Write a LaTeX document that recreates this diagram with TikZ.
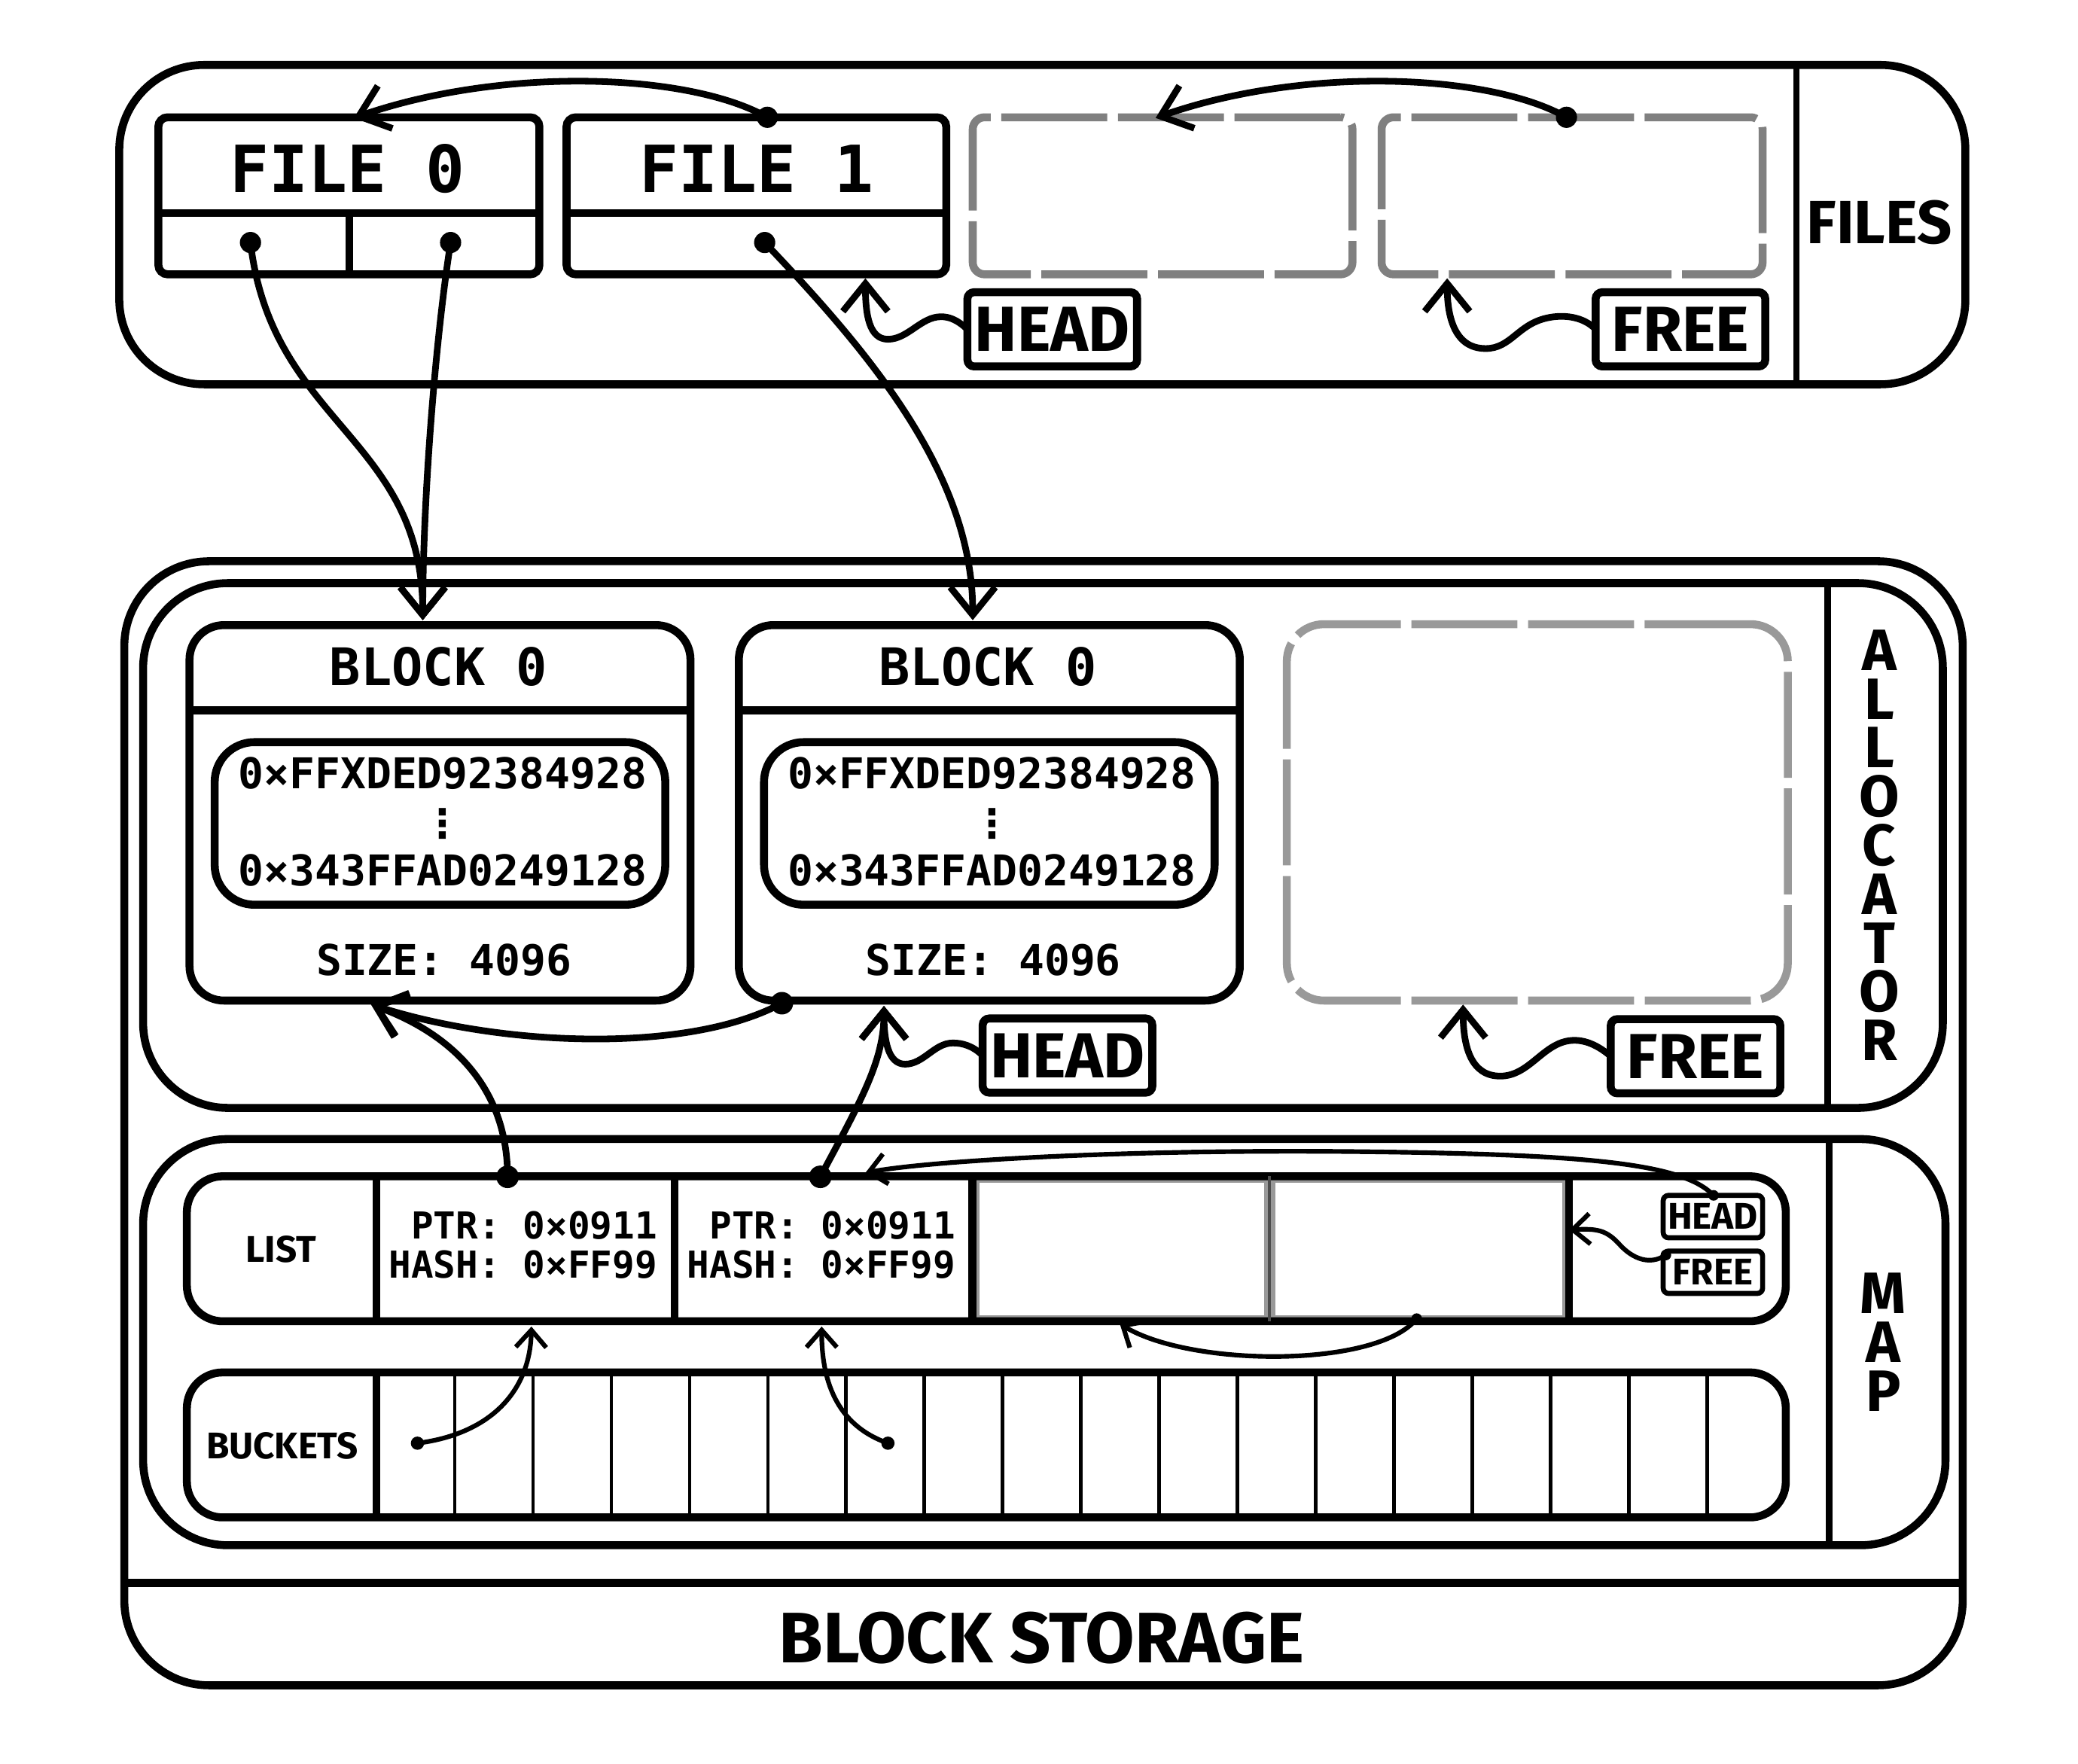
\documentclass[tikz,border=0pt]{standalone}
\usepackage{fontspec}
\setmainfont{Fira Sans}
\newfontfamily\monof{DejaVu Sans Mono}
\newfontfamily\dvsans{DejaVu Sans}
\usetikzlibrary{arrows.meta}
\definecolor{dgray}{HTML}{808080}
\definecolor{lgray}{HTML}{999999}
\newcommand\myfs[1]{\fontsize{#1}{#1}\selectfont}
\begin{document}
\begin{tikzpicture}[x=1pt,y=-1pt,
  sz/.style 2 args={minimum width=#1pt, minimum height=#2pt},
  cont/.style={draw, line width=6pt, rounded corners=64pt, inner sep=0pt, outer sep=0pt},
  box/.style={draw, line width=6pt, rounded corners=7pt, inner sep=0pt, outer sep=0pt},
  bbox/.style={draw, line width=6pt, rounded corners=26pt, inner sep=0pt, outer sep=0pt},
  ibox/.style={draw, line width=6pt, rounded corners=30pt, inner sep=0pt, outer sep=0pt},
  rbox/.style={draw, line width=6pt, rounded corners=27pt, inner sep=0pt, outer sep=0pt},
  dbox/.style={draw=dgray, line width=6pt, rounded corners=9pt, dash pattern=on 80pt off 8pt, inner sep=0pt, outer sep=0pt},
  dboxl/.style={draw=lgray, line width=6pt, rounded corners=28pt, dash pattern=on 80pt off 8pt, inner sep=0pt, outer sep=0pt},
  lbox/.style={draw, fill=white, line width=6pt, rounded corners=5pt, inner sep=0pt, outer sep=0pt, font=\bfseries\myfs{48}},
  sbox/.style={draw, fill=white, line width=3.8pt, rounded corners=4pt, inner sep=0pt, outer sep=0pt, font=\bfseries\myfs{28}},
  ln/.style={line width=6pt},
  divl/.style={line width=5pt},
  thinl/.style={line width=2.7pt},
  lab/.style={inner sep=0pt, font=\bfseries\myfs{#1}},
  mono/.style={inner sep=0pt, font=\monof\bfseries\myfs{#1}},
  conn/.style={line width=5pt, -{Straight Barb[length=21pt,width=34pt]}},
  sconn/.style={line width=3.5pt, -{Straight Barb[length=13pt,width=23pt]}}
]
\useasboundingbox (0,0) rectangle (1568,1331);

% ================= FILES =================
\node[cont, sz={1393}{241}] (files) at (786.5,169.5) {};
\draw[divl] (1355.5,49) -- (1355.5,290);
\node[lab=46] (filesl) at (1418,168) {FILES};

\node[box, sz={287.5}{118.5}] (file0) at (263.25,147.75) {};
\draw[ln] (119.5,160.7) -- (407,160.7);
\draw[ln] (263.5,160.7) -- (263.5,207);
\node[mono=49] (f0t) at (262,127.4) {FILE 0};

\node[box, sz={286.5}{118.5}] (file1) at (570.75,147.75) {};
\draw[ln] (427.5,160.7) -- (714,160.7);
\node[mono=49] (f1t) at (571,127.4) {FILE 1};

\node[dbox, sz={286.5}{118.5}] (fslot2) at (877.25,147.75) {};
\node[dbox, sz={287.5}{118.5}] (fslot3) at (1186.25,147.75) {};

\node[lbox, sz={128}{56}] (fhead) at (794,248.5) {HEAD};
\node[lbox, sz={128}{56}] (ffree) at (1268,248.5) {FREE};

\coordinate (f1top) at (579,88.5);
\coordinate (f0arr) at (267,89);
\coordinate (s3top) at (1182,88.5);
\coordinate (s2arr) at (872,89);
\draw[conn] (f1top) .. controls (520,55) and (380,50) .. (f0arr);
\draw[conn] (s3top) .. controls (1123,55) and (983,50) .. (s2arr);

\coordinate (f0a) at (189,183);
\coordinate (f0b) at (340,183);
\coordinate (f1a) at (577,183);
\coordinate (b0top) at (319,468);
\coordinate (b1top) at (734,468);
\draw[conn] (f0a) .. controls (205,320) and (319,330) .. (b0top);
\draw[conn] (f0b) .. controls (328,260) and (319,380) .. (b0top);
\draw[conn] (f1a) .. controls (660,270) and (734,360) .. (b1top);

\coordinate (f1bot) at (653,210);
\coordinate (s3bot) at (1092,210);
\draw[conn] (fhead.west) .. controls (722,241) and (716,239) .. (710,239)
   .. controls (695,239) and (685,256) .. (670,256)
   .. controls (656,256) and (653,238) .. (f1bot);
\draw[conn] (ffree.west) .. controls (1195,239) and (1180,237) .. (1167,240)
   .. controls (1145,245) and (1140,263) .. (1121,263)
   .. controls (1098,263) and (1092,240) .. (s3bot);

\foreach \p in {f1top,s3top,f0a,f0b,f1a} \fill (\p) circle[radius=8pt];

% ================= BLOCK STORAGE =================
\node[cont, sz={1387.2}{848.2}] (bstore) at (787.4,847.6) {};
\draw[ln] (93.8,1194.5) -- (1481,1194.5);
\node[lab=54] (bstl) at (786,1236) {BLOCK STORAGE};

% ----- allocator -----
\node[cont, sz={1358}{396}] (alloc) at (787,638) {};
\draw[divl] (1379,440) -- (1379,836);
\foreach \l [count=\i from 0] in {A,L,L,O,C,A,T,O,R}
  \node[lab=44] (al\i) at (1418,{490.6+36.8*\i}) {\l};

\node[bbox, sz={378}{283.3}] (blk0) at (332,613.35) {};
\draw[ln] (143,536) -- (521,536);
\node[ibox, sz={340}{122.7}] (hex0) at (332,621.35) {};
\node[mono=39] (b0t) at (331,503) {BLOCK 0};
\node[mono=32] (b0h1) at (334,583.6) {0×FFXDED92384928};
\node[inner sep=0pt, font=\dvsans\bfseries\myfs{30}] (b0h2) at (334,621.5) {⋮};
\node[mono=32] (b0h3) at (334,657) {0×343FFAD0249128};
\node[mono=32] (b0s) at (335,724.6) {SIZE: 4096};

\node[bbox, sz={378}{283.3}] (blk1) at (746.5,613.35) {};
\draw[ln] (557.5,536) -- (935.5,536);
\node[ibox, sz={340}{122.7}] (hex1) at (746.5,621.35) {};
\node[mono=39] (b1t) at (745.5,503) {BLOCK 0};
\node[mono=32] (b1h1) at (748.5,583.6) {0×FFXDED92384928};
\node[inner sep=0pt, font=\dvsans\bfseries\myfs{30}] (b1h2) at (748.5,621.5) {⋮};
\node[mono=32] (b1h3) at (748.5,657) {0×343FFAD0249128};
\node[mono=32] (b1s) at (749.5,724.6) {SIZE: 4096};

\node[dboxl, sz={378}{284}] (blk2) at (1160,613) {};

\node[lbox, sz={128}{56}] (ahead) at (805.5,796.5) {HEAD};
\node[lbox, sz={128}{56}] (afree) at (1279.4,797) {FREE};

\coordinate (b1dot) at (590,757);
\coordinate (b0bot) at (280,758);
\coordinate (b1bot) at (667,759);
\coordinate (b2bot) at (1104,758);
\coordinate (l1dot) at (383,888);
\coordinate (l2dot) at (619,888);
\draw[conn] (b1dot) .. controls (520,795) and (380,790) .. (b0bot);
\draw[conn] (l1dot) .. controls (383,820) and (340,780) .. (b0bot);
\draw[conn] (l2dot) .. controls (650,830) and (667,800) .. (b1bot);
\draw[conn] (ahead.west) .. controls (734,789) and (726,787) .. (719,787)
   .. controls (705,787) and (697,803) .. (683,803)
   .. controls (670,803) and (667,785) .. (b1bot);
\draw[conn] (afree.west) .. controls (1206,789) and (1197,785) .. (1188,785)
   .. controls (1165,785) and (1155,812) .. (1132,812)
   .. controls (1110,812) and (1104,790) .. (b2bot);
\foreach \p in {b1dot,l1dot,l2dot} \fill (\p) circle[radius=8.5pt];

% ----- map -----
\node[cont, sz={1360}{306.5}] (map) at (788,1012.75) {};
\draw[divl] (1380,859.5) -- (1380,1166);
\foreach \l [count=\i from 0] in {M,A,P}
  \node[lab=44] (mp\i) at (1421,{976+36.8*\i}) {\l};

\draw[lgray, line width=3.5pt] (737.5,891) rectangle (955.5,994);
\draw[lgray, line width=3.5pt] (960.5,891) rectangle (1180.5,994);
\node[rbox, sz={1206.5}{109.4}] (listrow) at (744.25,942.3) {};
\node[rbox, sz={1206.5}{109.4}] (bkrow) at (744.25,1090.3) {};
\foreach \x in {284,509,733.7,1184} \draw[ln] (\x,887.6) -- (\x,997);
\draw[line width=2.5pt, black!70] (958,887.6) -- (958,997);
\draw[ln] (284,1035.6) -- (284,1145);
\foreach \k in {1,...,17} \draw[thinl] ({284+59.08*\k},1035.6) -- ({284+59.08*\k},1145);

\node[lab=28] (listl) at (212,943) {LIST};
\node[lab=28] (bucketl) at (213,1091) {BUCKETS};
\node[mono=28, anchor=base east] (c1p) at (496,935) {PTR: 0×0911};
\node[mono=28, anchor=base east] (c1h) at (496,964.4) {HASH: 0×FF99};
\node[mono=28, anchor=base east] (c2p) at (721,935) {PTR: 0×0911};
\node[mono=28, anchor=base east] (c2h) at (721,964.4) {HASH: 0×FF99};

\node[sbox, sz={75}{32}] (mhead) at (1292.5,918) {HEAD};
\node[sbox, sz={75}{32}] (mfree) at (1292.5,960) {FREE};

\coordinate (mhd) at (1293,902);
\coordinate (l2arr) at (653,885);
\coordinate (mfd) at (1257,947);
\coordinate (c4arr) at (1184,928);
\coordinate (gcd) at (1069,995);
\coordinate (c3arr) at (845,999);
\coordinate (bk1) at (315,1089);
\coordinate (c1bot) at (401,1001);
\coordinate (bk2) at (670,1089);
\coordinate (c2bot) at (620,1001);
\draw[sconn] (mhd) .. controls (1270,878) and (1200,871) .. (1025,869)
   .. controls (850,867) and (700,876) .. (l2arr);
\draw[sconn] (mfd) .. controls (1245,955) and (1232,950) .. (1222,939)
   .. controls (1212,928) and (1205,927) .. (c4arr);
\draw[sconn] (gcd) .. controls (1040,1032) and (900,1032) .. (c3arr);
\draw[sconn] (bk1) .. controls (370,1082) and (400,1050) .. (c1bot);
\draw[sconn] (bk2) .. controls (630,1075) and (620,1040) .. (c2bot);
\foreach \p in {mhd,mfd,gcd} \fill (\p) circle[radius=4pt];
\foreach \p in {bk1,bk2} \fill (\p) circle[radius=5pt];
\end{tikzpicture}
\end{document}
